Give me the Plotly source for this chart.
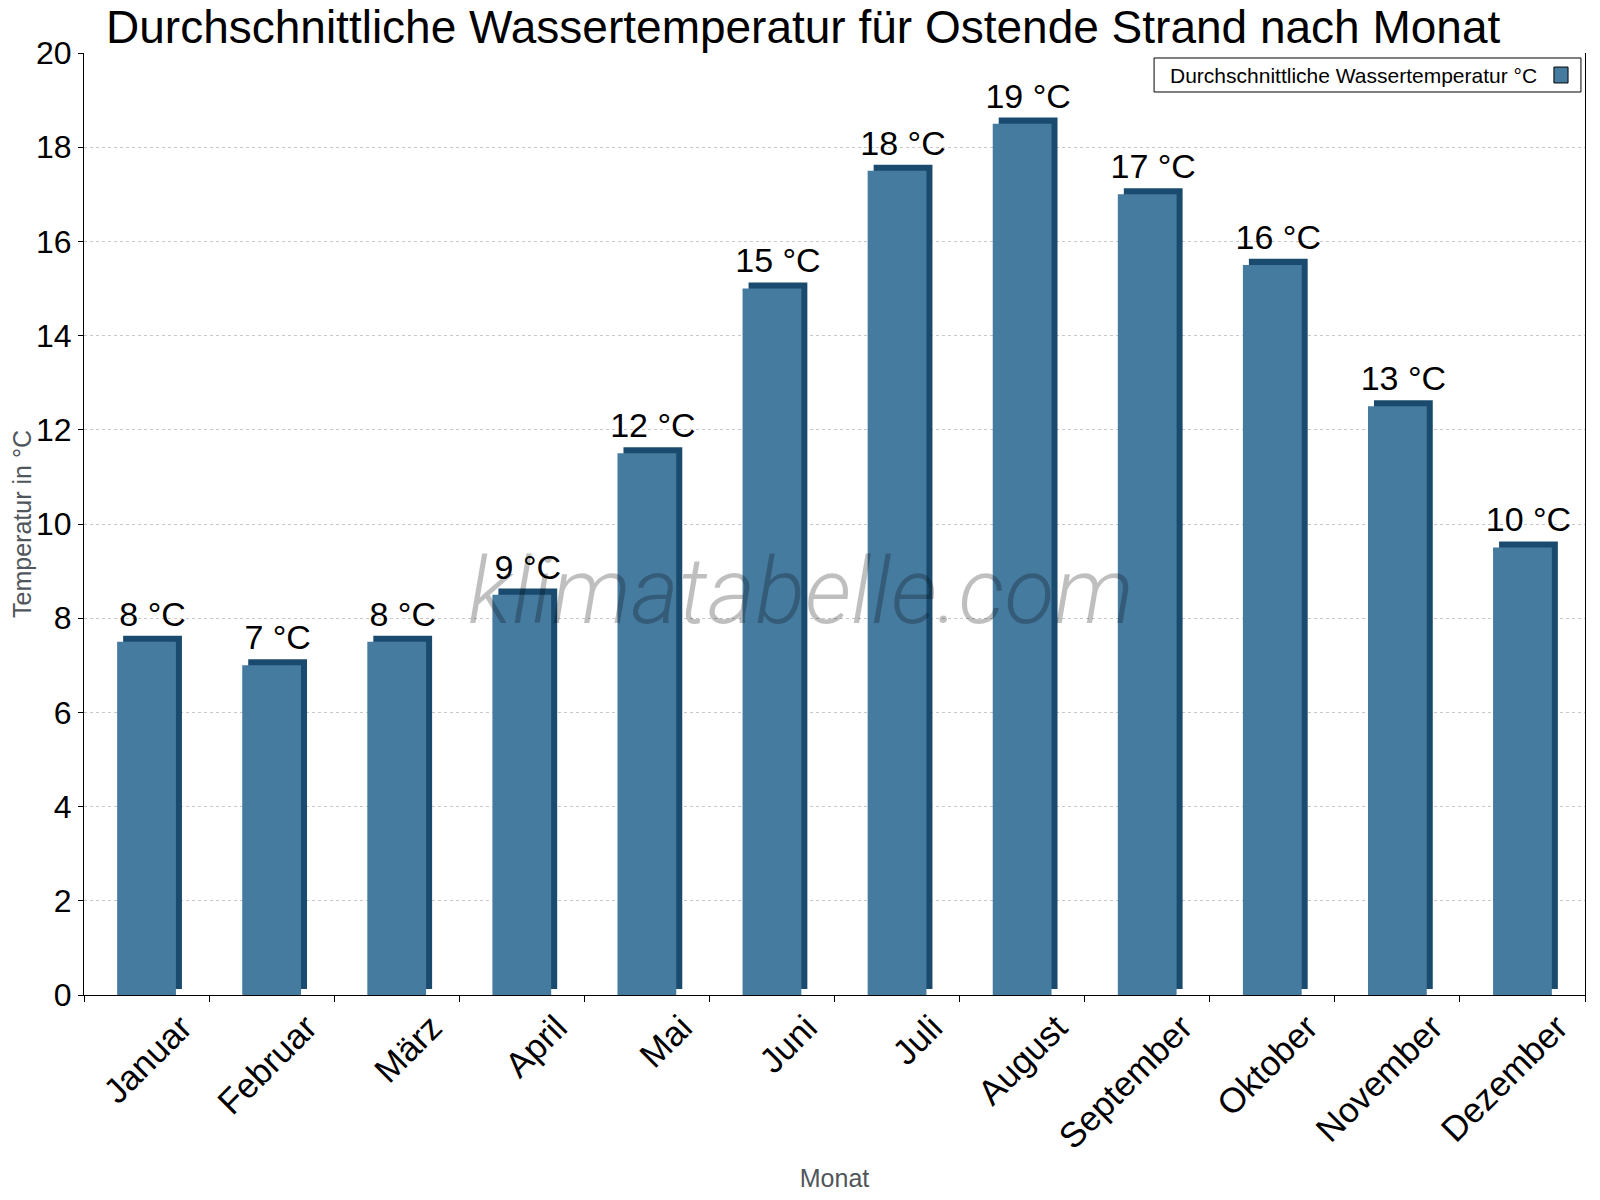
import math
import plotly.graph_objects as go

months = ["Januar", "Februar", "März", "April", "Mai", "Juni", "Juli",
          "August", "September", "Oktober", "November", "Dezember"]
water_temp = [7.5, 7.0, 7.5, 8.5, 11.5, 15.0, 17.5, 18.5, 17.0, 15.5, 12.5, 9.5]
y_ticks = [0, 2, 4, 6, 8, 10, 12, 14, 16, 18, 20]

labels = ["%d °C" % math.floor(v + 0.5) for v in water_temp]

front_color = "#467ba0"
side_color = "#1a4b6e"
font_main = "Arial, Liberation Sans, sans-serif"

# pseudo 3D: a dark bar shifted right/up behind the front bar
depth = 0.13
bar_w = 0.47

fig = go.Figure()
fig.add_trace(go.Bar(
    x=months, y=water_temp, base=depth,
    width=bar_w, offset=-bar_w / 2 + 0.048,
    marker_color=side_color, marker_line_width=0,
    text=labels, textposition="outside", constraintext="none",
    textfont=dict(size=34, color="black", family=font_main),
    cliponaxis=False, showlegend=False, hoverinfo="skip",
))
fig.add_trace(go.Bar(
    x=months, y=water_temp,
    width=bar_w, offset=-bar_w / 2,
    marker_color=front_color, marker_line_width=0,
    name="Durchschnittliche Wassertemperatur °C",
    showlegend=False,
))

# page body has an 8px margin, so the figure is a bit smaller than the window
fig.update_layout(
    width=1584, height=1184, autosize=False,
    barmode="overlay",
    plot_bgcolor="white", paper_bgcolor="white",
    margin=dict(l=76, r=7, t=45, b=197),
    font=dict(family=font_main, color="black"),
    title=dict(
        text="Durchschnittliche Wassertemperatur für Ostende Strand nach Monat",
        font=dict(size=46, color="black"),
        x=0.502, xanchor="center", xref="container",
        y=0.984, yanchor="middle", yref="container",
    ),
)

fig.update_xaxes(
    title=dict(text="Monat", font=dict(size=25, color="#50565c"), standoff=25),
    tickangle=-45, tickfont=dict(size=35),
    ticklabelshift=35, ticklabelstandoff=-3,
    ticks="outside", ticklen=6, tickson="boundaries", tickcolor="black",
    showline=True, linecolor="black", linewidth=1,
    showgrid=False, automargin=False,
)
fig.update_yaxes(
    title=dict(text="Temperatur in °C", font=dict(size=25, color="#50565c"), standoff=5),
    range=[0, 20], tickvals=y_ticks, tickfont=dict(size=32),
    ticks="outside", ticklen=5, tickcolor="black",
    showline=True, linecolor="black", linewidth=1, mirror=True,
    showgrid=True, gridcolor="#c8c8c8", griddash="dot", gridwidth=1,
    zeroline=False, automargin=False,
)

# legend box drawn by hand (symbol sits to the right of the text)
fig.add_shape(type="rect", xref="paper", yref="paper",
              x0=0.7129, x1=0.9973, y0=0.9586, y1=0.9947,
              line=dict(color="black", width=1), fillcolor="white")
fig.add_shape(type="rect", xref="paper", yref="paper",
              x0=0.9793, x1=0.9887, y0=0.9682, y1=0.9851,
              line=dict(color="black", width=1), fillcolor=front_color)
fig.add_annotation(text="Durchschnittliche Wassertemperatur °C",
                   xref="paper", yref="paper", x=0.7222, y=0.9766,
                   xanchor="left", yanchor="middle", showarrow=False,
                   font=dict(size=21, color="black"))

# watermark
fig.add_annotation(text="klimatabelle.com", xref="paper", yref="paper",
                   x=0.478, y=0.428, xanchor="center", yanchor="middle",
                   showarrow=False,
                   font=dict(family="Roboto", size=92, weight=300, style="italic",
                             color="rgba(0,0,0,0.25)"))

fig.write_html("out.html")
